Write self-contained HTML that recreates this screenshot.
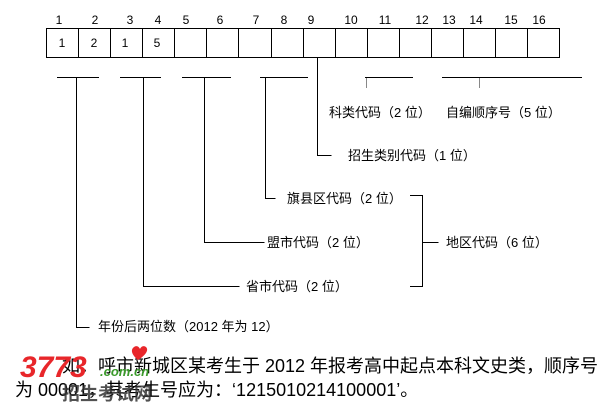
<!DOCTYPE html>
<html><head><meta charset="utf-8"><style>
body{margin:0;background:#fff;width:615px;height:412px;overflow:hidden}
svg{display:block}
text{font-family:"Liberation Sans","Noto Sans CJK SC",sans-serif;fill:#000}
</style></head><body>
<svg width="615" height="412" viewBox="0 0 615 412">
<g font-size="12" text-anchor="middle">
<text x="59" y="24">1</text><text x="95" y="24">2</text><text x="130" y="24">3</text><text x="158" y="24">4</text>
<text x="186" y="24">5</text><text x="220" y="24">6</text><text x="256" y="24">7</text><text x="284" y="24">8</text>
<text x="311" y="24">9</text><text x="351" y="24">10</text><text x="385" y="24">11</text><text x="422" y="24">12</text>
<text x="449" y="24">13</text><text x="476" y="24">14</text><text x="511" y="24">15</text><text x="539" y="24">16</text>
<text x="62" y="47">1</text><text x="94" y="47">2</text><text x="125" y="47">1</text><text x="157" y="47">5</text>
</g>
<g stroke="#000" stroke-width="1" fill="none" shape-rendering="crispEdges">
<rect x="46.5" y="28.5" width="513" height="29"/>
<path d="M78.5 28v29M110.5 28v29M142.5 28v29M174.5 28v29M206.5 28v29M238.5 28v29M271.5 28v29M303.5 28v29M335.5 28v29M367.5 28v29M399.5 28v29M431.5 28v29M463.5 28v29M495.5 28v29M527.5 28v29"/>
<path d="M57 77.5h42M120 77.5h41M182 77.5h49M260 77.5h48M365 77.5h48M442 77.5h140"/>
<path d="M317.5 57v98.5h14"/>
<path d="M265.5 77v121.5h10"/>
<path d="M204.5 77v165.5h60"/>
<path d="M143.5 77v143M143.5 77v209.5h96"/>
<path d="M76.5 77v250.5h13"/>
<path d="M410 195.5h12.5v91h-12.5M422.5 242.5h16"/>
</g>
<g stroke="#888" stroke-width="1" shape-rendering="crispEdges"><path d="M366.5 78v10M479.5 78v10"/></g>
<g font-size="13">
<text x="329" y="117">科类代码（2 位）</text>
<text x="446" y="117">自编顺序号（5 位）</text>
<text x="348" y="160">招生类别代码（1 位）</text>
<text x="287" y="203">旗县区代码（2 位）</text>
<text x="267" y="247">盟市代码（2 位）</text>
<text x="246" y="291">省市代码（2 位）</text>
<text x="446" y="247">地区代码（6 位）</text>
<text x="98" y="331">年份后两位数（2012 年为 12）</text>
</g>
<g font-size="18">
<text x="62" y="372">如：呼市新城区某考生于 2012 年报考高中起点本科文史类，顺序号</text>
<text x="15" y="396">为 00001，其考生号应为：‘1215010214100001’。</text>
</g>
<text x="20" y="377" font-size="30" font-weight="bold" font-style="italic" style="fill:#e8262a">3773</text>
<text x="100" y="376" font-size="13" font-weight="bold" font-style="italic" style="fill:#3a9a2a">.com.cn</text>
<path d="M138 360c-6-5-8-10-4-13 3-2 5 0 6 2 1-2 3-4 6-2 3 3 0 8-8 13z" fill="#e8262a"/>
<text x="62" y="400" font-size="18" font-weight="bold" style="fill:#333;opacity:.85">招生考试网</text>
</svg>
</body></html>
